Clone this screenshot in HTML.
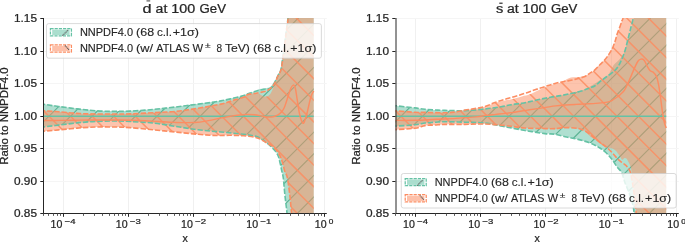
<!DOCTYPE html>
<html><head><meta charset="utf-8"><title>ratio plots</title>
<style>html,body{margin:0;padding:0;background:#fff;width:685px;height:242px;overflow:hidden}svg{display:block;will-change:transform}text{font-family:"Liberation Sans",sans-serif;stroke:#262626;stroke-width:0.24px}.lg text{stroke-width:0.12px}</style>
</head><body>
<svg width="685" height="242" viewBox="0 0 685 242" font-family="Liberation Sans, sans-serif" fill="#262626">
<rect width="685" height="242" fill="#ffffff"/>
<defs></defs>
<clipPath id="axL"><rect x="43.50" y="18.00" width="283.30" height="195.50"/></clipPath>
<clipPath id="tbL"><path d="M40.00,103.70C40.58,103.75 40.40,103.58 43.50,104.00C46.60,104.42 52.98,105.43 58.60,106.20C64.22,106.97 71.00,107.88 77.20,108.60C83.40,109.32 89.62,110.08 95.80,110.50C101.98,110.92 108.60,111.05 114.30,111.10C120.00,111.15 123.60,111.12 130.00,110.80C136.40,110.48 145.12,109.88 152.70,109.20C160.28,108.52 167.92,107.60 175.50,106.70C183.08,105.80 190.63,104.82 198.20,103.80C205.77,102.78 213.33,102.02 220.90,100.60C228.47,99.18 239.08,96.53 243.60,95.30C248.12,94.07 245.88,93.88 248.00,93.20C250.12,92.52 254.52,91.85 256.30,91.20C258.08,90.55 257.33,89.78 258.70,89.30C260.07,88.82 262.70,88.62 264.50,88.30C266.30,87.98 268.12,88.10 269.50,87.40C270.88,86.70 271.83,85.23 272.80,84.10C273.77,82.97 274.47,82.12 275.30,80.60C276.13,79.08 276.93,76.77 277.80,75.00C278.67,73.23 279.70,72.92 280.50,70.00C281.30,67.08 281.97,61.67 282.60,57.50C283.23,53.33 283.77,49.08 284.30,45.00C284.83,40.92 285.32,36.67 285.80,33.00C286.28,29.33 286.87,25.50 287.20,23.00C287.53,20.50 287.53,21.00 287.80,18.00C288.07,15.00 288.47,9.67 288.80,5.00C289.13,0.33 285.65,-7.50 289.80,-10.00C293.95,-12.50 309.72,-9.83 313.70,-10.00C317.68,-10.17 313.70,-10.83 313.70,-11.00L313.70,241.00C313.70,240.83 317.90,241.83 313.70,240.00C309.50,238.17 292.95,234.50 288.50,230.00C284.05,225.50 287.60,218.83 287.00,213.00C286.40,207.17 285.52,200.83 284.90,195.00C284.28,189.17 283.82,182.00 283.30,178.00C282.78,174.00 282.33,173.48 281.80,171.00C281.27,168.52 280.67,165.52 280.10,163.10C279.53,160.68 279.13,158.42 278.40,156.50C277.67,154.58 276.83,153.15 275.70,151.60C274.57,150.05 273.38,148.88 271.60,147.20C269.82,145.52 267.38,143.23 265.00,141.50C262.62,139.77 260.87,138.00 257.30,136.80C253.73,135.60 249.67,135.10 243.60,134.30C237.53,133.50 228.47,132.75 220.90,132.00C213.33,131.25 205.77,130.73 198.20,129.80C190.63,128.87 183.08,127.53 175.50,126.40C167.92,125.27 160.28,123.82 152.70,123.00C145.12,122.18 136.40,121.83 130.00,121.50C123.60,121.17 120.00,121.02 114.30,121.00C108.60,120.98 101.98,121.08 95.80,121.40C89.62,121.72 83.40,122.28 77.20,122.90C71.00,123.52 64.22,124.42 58.60,125.10C52.98,125.78 46.60,126.63 43.50,127.00C40.40,127.37 40.58,127.25 40.00,127.30Z"/></clipPath>
<clipPath id="obL"><path d="M40.00,110.60C40.58,110.63 40.40,110.62 43.50,110.80C46.60,110.98 52.98,111.27 58.60,111.70C64.22,112.13 71.00,113.02 77.20,113.40C83.40,113.78 89.62,113.90 95.80,114.00C101.98,114.10 108.60,114.02 114.30,114.00C120.00,113.98 123.60,114.12 130.00,113.90C136.40,113.68 145.12,113.12 152.70,112.70C160.28,112.28 167.92,112.15 175.50,111.40C183.08,110.65 190.63,109.42 198.20,108.20C205.77,106.98 215.22,105.37 220.90,104.10C226.58,102.83 228.52,101.75 232.30,100.60C236.08,99.45 240.98,98.20 243.60,97.20C246.22,96.20 245.88,95.25 248.00,94.60C250.12,93.95 254.52,93.47 256.30,93.30C258.08,93.13 257.60,93.13 258.70,93.60C259.80,94.07 261.52,95.62 262.90,96.10C264.28,96.58 265.77,96.85 267.00,96.50C268.23,96.15 269.33,95.23 270.30,94.00C271.27,92.77 272.12,90.60 272.80,89.10C273.48,87.60 273.78,86.52 274.40,85.00C275.02,83.48 275.80,81.83 276.50,80.00C277.20,78.17 277.82,75.67 278.60,74.00C279.38,72.33 280.43,72.75 281.20,70.00C281.97,67.25 282.58,61.67 283.20,57.50C283.82,53.33 284.37,49.08 284.90,45.00C285.43,40.92 285.92,36.67 286.40,33.00C286.88,29.33 287.47,25.50 287.80,23.00C288.13,20.50 288.13,21.00 288.40,18.00C288.67,15.00 289.07,9.67 289.40,5.00C289.73,0.33 286.35,-7.50 290.40,-10.00C294.45,-12.50 309.82,-9.83 313.70,-10.00C317.58,-10.17 313.70,-10.83 313.70,-11.00L313.70,241.00C313.70,240.83 317.15,241.83 313.70,240.00C310.25,238.17 296.70,234.50 293.00,230.00C289.30,225.50 292.03,218.83 291.50,213.00C290.97,207.17 290.52,201.00 289.80,195.00C289.08,189.00 288.00,180.83 287.20,177.00C286.40,173.17 285.77,174.32 285.00,172.00C284.23,169.68 283.45,165.82 282.60,163.10C281.75,160.38 281.33,158.28 279.90,155.70C278.47,153.12 276.32,149.80 274.00,147.60C271.68,145.40 268.78,144.12 266.00,142.50C263.22,140.88 261.03,139.02 257.30,137.90C253.57,136.78 248.15,136.23 243.60,135.80C239.05,135.37 234.53,135.35 230.00,135.30C225.47,135.25 221.70,135.67 216.40,135.50C211.10,135.33 205.02,134.88 198.20,134.30C191.38,133.72 183.08,132.75 175.50,132.00C167.92,131.25 160.28,130.53 152.70,129.80C145.12,129.07 136.40,128.07 130.00,127.60C123.60,127.13 120.00,127.10 114.30,127.00C108.60,126.90 101.98,126.82 95.80,127.00C89.62,127.18 83.40,127.62 77.20,128.10C71.00,128.58 64.22,129.38 58.60,129.90C52.98,130.42 46.60,130.93 43.50,131.20C40.40,131.47 40.58,131.45 40.00,131.50Z"/></clipPath>
<path d="M63.50,18.00V213.50M128.50,18.00V213.50M193.50,18.00V213.50M259.50,18.00V213.50M324.50,18.00V213.50" stroke="#f0f0f0" stroke-width="1" fill="none"/>
<path d="M43.50,18.50H326.80M43.50,51.50H326.80M43.50,83.50H326.80M43.50,116.50H326.80M43.50,148.50H326.80M43.50,181.50H326.80M43.50,213.50H326.80" stroke="#f5f5f5" stroke-width="1" fill="none"/>
<g clip-path="url(#axL)">
<path d="M40.00,103.70C40.58,103.75 40.40,103.58 43.50,104.00C46.60,104.42 52.98,105.43 58.60,106.20C64.22,106.97 71.00,107.88 77.20,108.60C83.40,109.32 89.62,110.08 95.80,110.50C101.98,110.92 108.60,111.05 114.30,111.10C120.00,111.15 123.60,111.12 130.00,110.80C136.40,110.48 145.12,109.88 152.70,109.20C160.28,108.52 167.92,107.60 175.50,106.70C183.08,105.80 190.63,104.82 198.20,103.80C205.77,102.78 213.33,102.02 220.90,100.60C228.47,99.18 239.08,96.53 243.60,95.30C248.12,94.07 245.88,93.88 248.00,93.20C250.12,92.52 254.52,91.85 256.30,91.20C258.08,90.55 257.33,89.78 258.70,89.30C260.07,88.82 262.70,88.62 264.50,88.30C266.30,87.98 268.12,88.10 269.50,87.40C270.88,86.70 271.83,85.23 272.80,84.10C273.77,82.97 274.47,82.12 275.30,80.60C276.13,79.08 276.93,76.77 277.80,75.00C278.67,73.23 279.70,72.92 280.50,70.00C281.30,67.08 281.97,61.67 282.60,57.50C283.23,53.33 283.77,49.08 284.30,45.00C284.83,40.92 285.32,36.67 285.80,33.00C286.28,29.33 286.87,25.50 287.20,23.00C287.53,20.50 287.53,21.00 287.80,18.00C288.07,15.00 288.47,9.67 288.80,5.00C289.13,0.33 285.65,-7.50 289.80,-10.00C293.95,-12.50 309.72,-9.83 313.70,-10.00C317.68,-10.17 313.70,-10.83 313.70,-11.00L313.70,241.00C313.70,240.83 317.90,241.83 313.70,240.00C309.50,238.17 292.95,234.50 288.50,230.00C284.05,225.50 287.60,218.83 287.00,213.00C286.40,207.17 285.52,200.83 284.90,195.00C284.28,189.17 283.82,182.00 283.30,178.00C282.78,174.00 282.33,173.48 281.80,171.00C281.27,168.52 280.67,165.52 280.10,163.10C279.53,160.68 279.13,158.42 278.40,156.50C277.67,154.58 276.83,153.15 275.70,151.60C274.57,150.05 273.38,148.88 271.60,147.20C269.82,145.52 267.38,143.23 265.00,141.50C262.62,139.77 260.87,138.00 257.30,136.80C253.73,135.60 249.67,135.10 243.60,134.30C237.53,133.50 228.47,132.75 220.90,132.00C213.33,131.25 205.77,130.73 198.20,129.80C190.63,128.87 183.08,127.53 175.50,126.40C167.92,125.27 160.28,123.82 152.70,123.00C145.12,122.18 136.40,121.83 130.00,121.50C123.60,121.17 120.00,121.02 114.30,121.00C108.60,120.98 101.98,121.08 95.80,121.40C89.62,121.72 83.40,122.28 77.20,122.90C71.00,123.52 64.22,124.42 58.60,125.10C52.98,125.78 46.60,126.63 43.50,127.00C40.40,127.37 40.58,127.25 40.00,127.30Z" fill="#66c2a5" fill-opacity="0.52"/>
<g clip-path="url(#tbL)"><path d="M38.50,-2.90L331.80,-296.20M38.50,18.70L331.80,-274.60M38.50,40.30L331.80,-253.00M38.50,61.90L331.80,-231.40M38.50,83.50L331.80,-209.80M38.50,105.10L331.80,-188.20M38.50,126.70L331.80,-166.60M38.50,148.30L331.80,-145.00M38.50,169.90L331.80,-123.40M38.50,191.50L331.80,-101.80M38.50,213.10L331.80,-80.20M38.50,234.70L331.80,-58.60M38.50,256.30L331.80,-37.00M38.50,277.90L331.80,-15.40M38.50,299.50L331.80,6.20M38.50,321.10L331.80,27.80M38.50,342.70L331.80,49.40M38.50,364.30L331.80,71.00M38.50,385.90L331.80,92.60M38.50,407.50L331.80,114.20M38.50,429.10L331.80,135.80M38.50,450.70L331.80,157.40M38.50,472.30L331.80,179.00M38.50,493.90L331.80,200.60" stroke="#52ad8c" stroke-opacity="0.90" stroke-width="1.15" fill="none"/></g>
<path d="M40.00,110.60C40.58,110.63 40.40,110.62 43.50,110.80C46.60,110.98 52.98,111.27 58.60,111.70C64.22,112.13 71.00,113.02 77.20,113.40C83.40,113.78 89.62,113.90 95.80,114.00C101.98,114.10 108.60,114.02 114.30,114.00C120.00,113.98 123.60,114.12 130.00,113.90C136.40,113.68 145.12,113.12 152.70,112.70C160.28,112.28 167.92,112.15 175.50,111.40C183.08,110.65 190.63,109.42 198.20,108.20C205.77,106.98 215.22,105.37 220.90,104.10C226.58,102.83 228.52,101.75 232.30,100.60C236.08,99.45 240.98,98.20 243.60,97.20C246.22,96.20 245.88,95.25 248.00,94.60C250.12,93.95 254.52,93.47 256.30,93.30C258.08,93.13 257.60,93.13 258.70,93.60C259.80,94.07 261.52,95.62 262.90,96.10C264.28,96.58 265.77,96.85 267.00,96.50C268.23,96.15 269.33,95.23 270.30,94.00C271.27,92.77 272.12,90.60 272.80,89.10C273.48,87.60 273.78,86.52 274.40,85.00C275.02,83.48 275.80,81.83 276.50,80.00C277.20,78.17 277.82,75.67 278.60,74.00C279.38,72.33 280.43,72.75 281.20,70.00C281.97,67.25 282.58,61.67 283.20,57.50C283.82,53.33 284.37,49.08 284.90,45.00C285.43,40.92 285.92,36.67 286.40,33.00C286.88,29.33 287.47,25.50 287.80,23.00C288.13,20.50 288.13,21.00 288.40,18.00C288.67,15.00 289.07,9.67 289.40,5.00C289.73,0.33 286.35,-7.50 290.40,-10.00C294.45,-12.50 309.82,-9.83 313.70,-10.00C317.58,-10.17 313.70,-10.83 313.70,-11.00L313.70,241.00C313.70,240.83 317.15,241.83 313.70,240.00C310.25,238.17 296.70,234.50 293.00,230.00C289.30,225.50 292.03,218.83 291.50,213.00C290.97,207.17 290.52,201.00 289.80,195.00C289.08,189.00 288.00,180.83 287.20,177.00C286.40,173.17 285.77,174.32 285.00,172.00C284.23,169.68 283.45,165.82 282.60,163.10C281.75,160.38 281.33,158.28 279.90,155.70C278.47,153.12 276.32,149.80 274.00,147.60C271.68,145.40 268.78,144.12 266.00,142.50C263.22,140.88 261.03,139.02 257.30,137.90C253.57,136.78 248.15,136.23 243.60,135.80C239.05,135.37 234.53,135.35 230.00,135.30C225.47,135.25 221.70,135.67 216.40,135.50C211.10,135.33 205.02,134.88 198.20,134.30C191.38,133.72 183.08,132.75 175.50,132.00C167.92,131.25 160.28,130.53 152.70,129.80C145.12,129.07 136.40,128.07 130.00,127.60C123.60,127.13 120.00,127.10 114.30,127.00C108.60,126.90 101.98,126.82 95.80,127.00C89.62,127.18 83.40,127.62 77.20,128.10C71.00,128.58 64.22,129.38 58.60,129.90C52.98,130.42 46.60,130.93 43.50,131.20C40.40,131.47 40.58,131.45 40.00,131.50Z" fill="#fc8d62" fill-opacity="0.52"/>
<g clip-path="url(#obL)"><path d="M38.50,-283.00L331.80,10.30M38.50,-261.40L331.80,31.90M38.50,-239.80L331.80,53.50M38.50,-218.20L331.80,75.10M38.50,-196.60L331.80,96.70M38.50,-175.00L331.80,118.30M38.50,-153.40L331.80,139.90M38.50,-131.80L331.80,161.50M38.50,-110.20L331.80,183.10M38.50,-88.60L331.80,204.70M38.50,-67.00L331.80,226.30M38.50,-45.40L331.80,247.90M38.50,-23.80L331.80,269.50M38.50,-2.20L331.80,291.10M38.50,19.40L331.80,312.70M38.50,41.00L331.80,334.30M38.50,62.60L331.80,355.90M38.50,84.20L331.80,377.50M38.50,105.80L331.80,399.10M38.50,127.40L331.80,420.70M38.50,149.00L331.80,442.30M38.50,170.60L331.80,463.90M38.50,192.20L331.80,485.50M38.50,213.80L331.80,507.10" stroke="#fc8d62" stroke-opacity="0.85" stroke-width="1.5" fill="none"/></g>
<path d="M40.00,104.00C40.58,104.05 40.40,103.88 43.50,104.30C46.60,104.72 52.98,105.73 58.60,106.50C64.22,107.27 71.00,108.18 77.20,108.90C83.40,109.62 89.62,110.38 95.80,110.80C101.98,111.22 108.60,111.35 114.30,111.40C120.00,111.45 123.60,111.42 130.00,111.10C136.40,110.78 145.12,110.18 152.70,109.50C160.28,108.82 167.92,107.90 175.50,107.00C183.08,106.10 190.63,105.12 198.20,104.10C205.77,103.08 213.33,102.32 220.90,100.90C228.47,99.48 239.08,96.78 243.60,95.60C248.12,94.42 246.43,94.37 248.00,93.80C249.57,93.23 251.35,92.73 253.00,92.20C254.65,91.67 256.07,91.08 257.90,90.60C259.73,90.12 261.93,89.70 264.00,89.30C266.07,88.90 268.80,88.92 270.30,88.20C271.80,87.48 272.13,86.23 273.00,85.00C273.87,83.77 274.67,82.38 275.50,80.80C276.33,79.22 277.12,77.30 278.00,75.50C278.88,73.70 280.00,73.00 280.80,70.00C281.60,67.00 282.18,61.67 282.80,57.50C283.42,53.33 283.97,49.08 284.50,45.00C285.03,40.92 285.52,36.67 286.00,33.00C286.48,29.33 287.07,25.50 287.40,23.00C287.73,20.50 287.73,21.00 288.00,18.00C288.27,15.00 288.83,7.17 289.00,5.00" stroke="#66c2a5" stroke-width="1.6" fill="none" stroke-dasharray="5.3,1.9"/>
<path d="M40.00,127.30C40.58,127.25 40.40,127.37 43.50,127.00C46.60,126.63 52.98,125.78 58.60,125.10C64.22,124.42 71.00,123.52 77.20,122.90C83.40,122.28 89.62,121.72 95.80,121.40C101.98,121.08 108.60,120.98 114.30,121.00C120.00,121.02 123.60,121.17 130.00,121.50C136.40,121.83 145.12,122.18 152.70,123.00C160.28,123.82 167.92,125.27 175.50,126.40C183.08,127.53 190.63,128.87 198.20,129.80C205.77,130.73 213.33,131.25 220.90,132.00C228.47,132.75 237.53,133.50 243.60,134.30C249.67,135.10 253.73,135.60 257.30,136.80C260.87,138.00 262.62,139.77 265.00,141.50C267.38,143.23 269.82,145.52 271.60,147.20C273.38,148.88 274.57,150.05 275.70,151.60C276.83,153.15 277.67,154.58 278.40,156.50C279.13,158.42 279.53,160.68 280.10,163.10C280.67,165.52 281.27,168.52 281.80,171.00C282.33,173.48 282.78,174.00 283.30,178.00C283.82,182.00 284.28,189.17 284.90,195.00C285.52,200.83 286.40,207.17 287.00,213.00C287.60,218.83 284.05,225.50 288.50,230.00C292.95,234.50 309.50,238.17 313.70,240.00C317.90,241.83 313.70,240.83 313.70,241.00" stroke="#66c2a5" stroke-width="1.6" fill="none" stroke-dasharray="5.3,1.9"/>
<path d="M40.00,110.60C40.58,110.63 40.40,110.62 43.50,110.80C46.60,110.98 52.98,111.27 58.60,111.70C64.22,112.13 71.00,113.02 77.20,113.40C83.40,113.78 89.62,113.90 95.80,114.00C101.98,114.10 108.60,114.02 114.30,114.00C120.00,113.98 123.60,114.12 130.00,113.90C136.40,113.68 145.12,113.12 152.70,112.70C160.28,112.28 167.92,112.15 175.50,111.40C183.08,110.65 190.63,109.42 198.20,108.20C205.77,106.98 215.22,105.37 220.90,104.10C226.58,102.83 228.52,101.75 232.30,100.60C236.08,99.45 240.98,98.22 243.60,97.20C246.22,96.18 245.88,95.17 248.00,94.50C250.12,93.83 254.23,93.55 256.30,93.20C258.37,92.85 259.03,92.67 260.40,92.40C261.77,92.13 263.27,91.95 264.50,91.60C265.73,91.25 266.70,90.92 267.80,90.30C268.90,89.68 270.13,88.78 271.10,87.90C272.07,87.02 272.78,86.23 273.60,85.00C274.42,83.77 275.22,82.17 276.00,80.50C276.78,78.83 277.47,76.75 278.30,75.00C279.13,73.25 280.22,72.92 281.00,70.00C281.78,67.08 282.38,61.67 283.00,57.50C283.62,53.33 284.17,49.08 284.70,45.00C285.23,40.92 285.72,36.67 286.20,33.00C286.68,29.33 287.27,25.50 287.60,23.00C287.93,20.50 287.93,21.00 288.20,18.00C288.47,15.00 289.03,7.17 289.20,5.00" stroke="#fc8d62" stroke-width="1.6" fill="none" stroke-dasharray="5.3,1.9"/>
<path d="M40.00,131.50C40.58,131.45 40.40,131.47 43.50,131.20C46.60,130.93 52.98,130.42 58.60,129.90C64.22,129.38 71.00,128.58 77.20,128.10C83.40,127.62 89.62,127.18 95.80,127.00C101.98,126.82 108.60,126.90 114.30,127.00C120.00,127.10 123.60,127.13 130.00,127.60C136.40,128.07 145.12,129.07 152.70,129.80C160.28,130.53 167.92,131.25 175.50,132.00C183.08,132.75 191.38,133.72 198.20,134.30C205.02,134.88 211.10,135.33 216.40,135.50C221.70,135.67 225.47,135.25 230.00,135.30C234.53,135.35 239.05,135.37 243.60,135.80C248.15,136.23 253.57,136.78 257.30,137.90C261.03,139.02 263.22,140.88 266.00,142.50C268.78,144.12 271.68,145.40 274.00,147.60C276.32,149.80 278.47,153.12 279.90,155.70C281.33,158.28 281.75,160.38 282.60,163.10C283.45,165.82 284.23,169.68 285.00,172.00C285.77,174.32 286.40,173.17 287.20,177.00C288.00,180.83 289.08,189.00 289.80,195.00C290.52,201.00 290.97,207.17 291.50,213.00C292.03,218.83 289.30,225.50 293.00,230.00C296.70,234.50 310.25,238.17 313.70,240.00C317.15,241.83 313.70,240.83 313.70,241.00" stroke="#fc8d62" stroke-width="1.6" fill="none" stroke-dasharray="5.3,1.9"/>
<path d="M43.50,116.30H313.70" stroke="#66c2a5" stroke-width="1.5" fill="none"/>
<path d="M40.00,120.50C40.58,120.50 40.17,120.52 43.50,120.50C46.83,120.48 53.92,120.47 60.00,120.40C66.08,120.33 73.33,120.17 80.00,120.10C86.67,120.03 93.33,120.02 100.00,120.00C106.67,119.98 113.33,119.92 120.00,120.00C126.67,120.08 133.67,120.25 140.00,120.50C146.33,120.75 152.17,121.18 158.00,121.50C163.83,121.82 168.83,122.23 175.00,122.40C181.17,122.57 189.43,122.80 195.00,122.50C200.57,122.20 203.73,121.42 208.40,120.60C213.07,119.78 218.13,118.48 223.00,117.60C227.87,116.72 233.60,115.83 237.60,115.30C241.60,114.77 244.18,114.48 247.00,114.40C249.82,114.32 252.05,114.53 254.50,114.80C256.95,115.07 259.53,115.63 261.70,116.00C263.87,116.37 265.58,116.88 267.50,117.00C269.42,117.12 271.52,117.00 273.20,116.70C274.88,116.40 276.27,115.93 277.60,115.20C278.93,114.47 280.12,113.50 281.20,112.30C282.28,111.10 283.27,109.68 284.10,108.00C284.93,106.32 285.45,104.40 286.20,102.20C286.95,100.00 287.80,97.17 288.60,94.80C289.40,92.43 290.18,89.65 291.00,88.00C291.82,86.35 292.75,84.73 293.50,84.90C294.25,85.07 294.88,86.53 295.50,89.00C296.12,91.47 296.50,95.43 297.20,99.70C297.90,103.97 298.75,110.68 299.70,114.60C300.65,118.52 302.02,122.30 302.90,123.20C303.78,124.10 304.32,121.65 305.00,120.00C305.68,118.35 306.03,117.10 307.00,113.30C307.97,109.50 309.68,100.92 310.80,97.20C311.92,93.48 313.22,92.03 313.70,91.00" stroke="#fc8d62" stroke-width="1.45" fill="none"/>
</g>
<path d="M43.50,18.00V213.50" stroke="#262626" stroke-width="1" fill="none"/>
<path d="M43.00,213.50H326.80" stroke="#262626" stroke-width="1" fill="none"/>
<path d="M40.30,18.50H43.50M40.30,51.50H43.50M40.30,83.50H43.50M40.30,116.50H43.50M40.30,148.50H43.50M40.30,181.50H43.50M40.30,213.50H43.50M63.50,213.50V216.80M128.50,213.50V216.80M193.50,213.50V216.80M259.50,213.50V216.80M324.50,213.50V216.80" stroke="#262626" stroke-width="1" fill="none"/>
<path d="M43.50,213.50V215.90M48.50,213.50V215.90M53.50,213.50V215.90M57.50,213.50V215.90M60.50,213.50V215.90M83.50,213.50V215.90M94.50,213.50V215.90M102.50,213.50V215.90M109.50,213.50V215.90M114.50,213.50V215.90M118.50,213.50V215.90M122.50,213.50V215.90M125.50,213.50V215.90M148.50,213.50V215.90M159.50,213.50V215.90M167.50,213.50V215.90M174.50,213.50V215.90M179.50,213.50V215.90M183.50,213.50V215.90M187.50,213.50V215.90M190.50,213.50V215.90M213.50,213.50V215.90M225.50,213.50V215.90M233.50,213.50V215.90M239.50,213.50V215.90M244.50,213.50V215.90M249.50,213.50V215.90M252.50,213.50V215.90M256.50,213.50V215.90M278.50,213.50V215.90M290.50,213.50V215.90M298.50,213.50V215.90M304.50,213.50V215.90M309.50,213.50V215.90M314.50,213.50V215.90M318.50,213.50V215.90M321.50,213.50V215.90" stroke="#4a4a4a" stroke-width="0.9" fill="none"/>
<clipPath id="axR"><rect x="395.50" y="18.00" width="283.30" height="195.50"/></clipPath>
<clipPath id="tbR"><path d="M392.00,105.40C392.67,105.47 392.17,105.38 396.00,105.80C399.83,106.22 410.17,107.32 415.00,107.90C419.83,108.48 420.00,108.88 425.00,109.30C430.00,109.72 438.33,110.18 445.00,110.40C451.67,110.62 458.33,110.83 465.00,110.60C471.67,110.37 478.98,109.65 485.00,109.00C491.02,108.35 496.70,107.42 501.10,106.70C505.50,105.98 507.95,105.28 511.40,104.70C514.85,104.12 518.70,103.72 521.80,103.20C524.90,102.68 526.97,102.25 530.00,101.60C533.03,100.95 536.60,100.02 540.00,99.30C543.40,98.58 546.95,97.92 550.40,97.30C553.85,96.68 557.27,96.23 560.70,95.60C564.13,94.97 567.55,94.33 571.00,93.50C574.45,92.67 578.28,91.72 581.40,90.60C584.52,89.48 587.45,87.97 589.70,86.80C591.95,85.63 593.20,84.68 594.90,83.60C596.60,82.52 598.52,81.13 599.90,80.30C601.28,79.47 601.83,79.48 603.20,78.60C604.57,77.72 606.73,76.52 608.10,75.00C609.47,73.48 610.43,71.20 611.40,69.50C612.37,67.80 612.78,66.27 613.90,64.80C615.02,63.33 616.72,62.17 618.10,60.70C619.48,59.23 621.10,57.62 622.20,56.00C623.30,54.38 624.03,52.67 624.70,51.00C625.37,49.33 625.57,48.17 626.20,46.00C626.83,43.83 627.67,40.92 628.50,38.00C629.33,35.08 630.33,31.72 631.20,28.50C632.07,25.28 632.98,22.62 633.70,18.70C634.42,14.78 635.03,9.78 635.50,5.00C635.97,0.22 631.38,-7.50 636.50,-10.00C641.62,-12.50 661.25,-9.83 666.20,-10.00C671.15,-10.17 666.20,-10.83 666.20,-11.00L666.20,241.00C666.20,240.83 671.32,241.83 666.20,240.00C661.08,238.17 640.85,234.43 635.50,230.00C630.15,225.57 634.52,217.48 634.10,213.40C633.68,209.32 633.77,208.73 633.00,205.50C632.23,202.27 630.83,197.80 629.50,194.00C628.17,190.20 626.32,186.28 625.00,182.70C623.68,179.12 622.93,175.15 621.60,172.50C620.27,169.85 618.47,168.80 617.00,166.80C615.53,164.80 614.00,162.18 612.80,160.50C611.60,158.82 611.12,158.17 609.80,156.70C608.48,155.23 606.55,153.15 604.90,151.70C603.25,150.25 601.55,149.07 599.90,148.00C598.25,146.93 596.70,146.17 595.00,145.30C593.30,144.43 592.52,143.78 589.70,142.80C586.88,141.82 581.95,140.37 578.10,139.40C574.25,138.43 570.45,137.87 566.60,137.00C562.75,136.13 558.60,134.77 555.00,134.20C551.40,133.63 550.00,134.22 545.00,133.60C540.00,132.98 531.67,131.63 525.00,130.50C518.33,129.37 511.67,128.05 505.00,126.80C498.33,125.55 491.67,123.77 485.00,123.00C478.33,122.23 471.67,122.42 465.00,122.20C458.33,121.98 450.00,121.68 445.00,121.70C440.00,121.72 438.33,122.08 435.00,122.30C431.67,122.52 428.33,122.58 425.00,123.00C421.67,123.42 419.83,124.28 415.00,124.80C410.17,125.32 399.83,125.83 396.00,126.10C392.17,126.37 392.67,126.35 392.00,126.40Z"/></clipPath>
<clipPath id="obR"><path d="M392.00,110.80C392.67,110.80 392.17,110.55 396.00,110.80C399.83,111.05 410.17,112.03 415.00,112.30C419.83,112.57 420.00,112.32 425.00,112.40C430.00,112.48 440.00,112.87 445.00,112.80C450.00,112.73 451.67,112.45 455.00,112.00C458.33,111.55 461.67,110.67 465.00,110.10C468.33,109.53 471.67,109.20 475.00,108.60C478.33,108.00 481.67,107.43 485.00,106.50C488.33,105.57 491.67,104.00 495.00,103.00C498.33,102.00 502.27,101.12 505.00,100.50C507.73,99.88 508.60,99.98 511.40,99.30C514.20,98.62 518.70,97.23 521.80,96.40C524.90,95.57 526.97,95.45 530.00,94.30C533.03,93.15 536.60,91.00 540.00,89.50C543.40,88.00 547.90,86.22 550.40,85.30C552.90,84.38 553.28,84.45 555.00,84.00C556.72,83.55 558.88,83.32 560.70,82.60C562.52,81.88 564.18,80.53 565.90,79.70C567.62,78.87 568.77,78.05 571.00,77.60C573.23,77.15 576.88,77.35 579.30,77.00C581.72,76.65 583.42,76.27 585.50,75.50C587.58,74.73 589.90,73.78 591.80,72.40C593.70,71.02 595.55,68.52 596.90,67.20C598.25,65.88 598.72,65.63 599.90,64.50C601.08,63.37 602.77,61.77 604.00,60.40C605.23,59.03 606.20,57.82 607.30,56.30C608.40,54.78 609.63,52.93 610.60,51.30C611.57,49.67 612.28,48.38 613.10,46.50C613.92,44.62 614.80,42.15 615.50,40.00C616.20,37.85 616.53,35.90 617.30,33.60C618.07,31.30 619.32,28.37 620.10,26.20C620.88,24.03 621.52,21.97 622.00,20.60C622.48,19.23 622.67,20.60 623.00,18.00C623.33,15.40 623.67,9.67 624.00,5.00C624.33,0.33 617.97,-7.50 625.00,-10.00C632.03,-12.50 659.33,-9.83 666.20,-10.00C673.07,-10.17 666.20,-10.83 666.20,-11.00L666.20,241.00C666.20,240.83 671.07,241.83 666.20,240.00C661.33,238.17 641.97,234.43 637.00,230.00C632.03,225.57 636.70,218.25 636.40,213.40C636.10,208.55 635.67,205.25 635.20,200.90C634.73,196.55 634.17,191.85 633.60,187.30C633.03,182.75 632.28,177.02 631.80,173.60C631.32,170.18 631.25,168.73 630.70,166.80C630.15,164.87 629.20,163.38 628.50,162.00C627.80,160.62 627.17,159.17 626.50,158.50C625.83,157.83 625.22,157.78 624.50,158.00C623.78,158.22 623.00,160.12 622.20,159.80C621.40,159.48 620.73,157.55 619.70,156.10C618.67,154.65 617.23,152.35 616.00,151.10C614.77,149.85 613.75,149.22 612.30,148.60C610.85,147.98 608.95,148.02 607.30,147.40C605.65,146.78 604.05,145.93 602.40,144.90C600.75,143.87 599.47,142.65 597.40,141.20C595.33,139.75 591.85,137.77 590.00,136.20C588.15,134.63 587.50,132.82 586.30,131.80C585.10,130.78 584.17,130.62 582.80,130.10C581.43,129.58 579.83,129.08 578.10,128.70C576.37,128.32 574.32,127.98 572.40,127.80C570.48,127.62 568.53,127.50 566.60,127.60C564.67,127.70 562.73,128.13 560.80,128.40C558.87,128.67 557.63,129.13 555.00,129.20C552.37,129.27 550.00,129.00 545.00,128.80C540.00,128.60 531.67,128.55 525.00,128.00C518.33,127.45 511.67,126.17 505.00,125.50C498.33,124.83 491.67,124.18 485.00,124.00C478.33,123.82 471.67,124.33 465.00,124.40C458.33,124.47 450.00,124.30 445.00,124.40C440.00,124.50 438.33,124.80 435.00,125.00C431.67,125.20 428.33,125.07 425.00,125.60C421.67,126.13 419.83,127.53 415.00,128.20C410.17,128.87 399.83,129.33 396.00,129.60C392.17,129.87 392.67,129.77 392.00,129.80Z"/></clipPath>
<path d="M415.50,18.00V213.50M480.50,18.00V213.50M545.50,18.00V213.50M611.50,18.00V213.50M676.50,18.00V213.50" stroke="#f0f0f0" stroke-width="1" fill="none"/>
<path d="M395.50,18.50H678.80M395.50,51.50H678.80M395.50,83.50H678.80M395.50,116.50H678.80M395.50,148.50H678.80M395.50,181.50H678.80M395.50,213.50H678.80" stroke="#f5f5f5" stroke-width="1" fill="none"/>
<g clip-path="url(#axR)">
<path d="M392.00,105.40C392.67,105.47 392.17,105.38 396.00,105.80C399.83,106.22 410.17,107.32 415.00,107.90C419.83,108.48 420.00,108.88 425.00,109.30C430.00,109.72 438.33,110.18 445.00,110.40C451.67,110.62 458.33,110.83 465.00,110.60C471.67,110.37 478.98,109.65 485.00,109.00C491.02,108.35 496.70,107.42 501.10,106.70C505.50,105.98 507.95,105.28 511.40,104.70C514.85,104.12 518.70,103.72 521.80,103.20C524.90,102.68 526.97,102.25 530.00,101.60C533.03,100.95 536.60,100.02 540.00,99.30C543.40,98.58 546.95,97.92 550.40,97.30C553.85,96.68 557.27,96.23 560.70,95.60C564.13,94.97 567.55,94.33 571.00,93.50C574.45,92.67 578.28,91.72 581.40,90.60C584.52,89.48 587.45,87.97 589.70,86.80C591.95,85.63 593.20,84.68 594.90,83.60C596.60,82.52 598.52,81.13 599.90,80.30C601.28,79.47 601.83,79.48 603.20,78.60C604.57,77.72 606.73,76.52 608.10,75.00C609.47,73.48 610.43,71.20 611.40,69.50C612.37,67.80 612.78,66.27 613.90,64.80C615.02,63.33 616.72,62.17 618.10,60.70C619.48,59.23 621.10,57.62 622.20,56.00C623.30,54.38 624.03,52.67 624.70,51.00C625.37,49.33 625.57,48.17 626.20,46.00C626.83,43.83 627.67,40.92 628.50,38.00C629.33,35.08 630.33,31.72 631.20,28.50C632.07,25.28 632.98,22.62 633.70,18.70C634.42,14.78 635.03,9.78 635.50,5.00C635.97,0.22 631.38,-7.50 636.50,-10.00C641.62,-12.50 661.25,-9.83 666.20,-10.00C671.15,-10.17 666.20,-10.83 666.20,-11.00L666.20,241.00C666.20,240.83 671.32,241.83 666.20,240.00C661.08,238.17 640.85,234.43 635.50,230.00C630.15,225.57 634.52,217.48 634.10,213.40C633.68,209.32 633.77,208.73 633.00,205.50C632.23,202.27 630.83,197.80 629.50,194.00C628.17,190.20 626.32,186.28 625.00,182.70C623.68,179.12 622.93,175.15 621.60,172.50C620.27,169.85 618.47,168.80 617.00,166.80C615.53,164.80 614.00,162.18 612.80,160.50C611.60,158.82 611.12,158.17 609.80,156.70C608.48,155.23 606.55,153.15 604.90,151.70C603.25,150.25 601.55,149.07 599.90,148.00C598.25,146.93 596.70,146.17 595.00,145.30C593.30,144.43 592.52,143.78 589.70,142.80C586.88,141.82 581.95,140.37 578.10,139.40C574.25,138.43 570.45,137.87 566.60,137.00C562.75,136.13 558.60,134.77 555.00,134.20C551.40,133.63 550.00,134.22 545.00,133.60C540.00,132.98 531.67,131.63 525.00,130.50C518.33,129.37 511.67,128.05 505.00,126.80C498.33,125.55 491.67,123.77 485.00,123.00C478.33,122.23 471.67,122.42 465.00,122.20C458.33,121.98 450.00,121.68 445.00,121.70C440.00,121.72 438.33,122.08 435.00,122.30C431.67,122.52 428.33,122.58 425.00,123.00C421.67,123.42 419.83,124.28 415.00,124.80C410.17,125.32 399.83,125.83 396.00,126.10C392.17,126.37 392.67,126.35 392.00,126.40Z" fill="#66c2a5" fill-opacity="0.52"/>
<g clip-path="url(#tbR)"><path d="M390.50,-2.90L683.80,-296.20M390.50,18.70L683.80,-274.60M390.50,40.30L683.80,-253.00M390.50,61.90L683.80,-231.40M390.50,83.50L683.80,-209.80M390.50,105.10L683.80,-188.20M390.50,126.70L683.80,-166.60M390.50,148.30L683.80,-145.00M390.50,169.90L683.80,-123.40M390.50,191.50L683.80,-101.80M390.50,213.10L683.80,-80.20M390.50,234.70L683.80,-58.60M390.50,256.30L683.80,-37.00M390.50,277.90L683.80,-15.40M390.50,299.50L683.80,6.20M390.50,321.10L683.80,27.80M390.50,342.70L683.80,49.40M390.50,364.30L683.80,71.00M390.50,385.90L683.80,92.60M390.50,407.50L683.80,114.20M390.50,429.10L683.80,135.80M390.50,450.70L683.80,157.40M390.50,472.30L683.80,179.00M390.50,493.90L683.80,200.60" stroke="#52ad8c" stroke-opacity="0.90" stroke-width="1.15" fill="none"/></g>
<path d="M392.00,110.80C392.67,110.80 392.17,110.55 396.00,110.80C399.83,111.05 410.17,112.03 415.00,112.30C419.83,112.57 420.00,112.32 425.00,112.40C430.00,112.48 440.00,112.87 445.00,112.80C450.00,112.73 451.67,112.45 455.00,112.00C458.33,111.55 461.67,110.67 465.00,110.10C468.33,109.53 471.67,109.20 475.00,108.60C478.33,108.00 481.67,107.43 485.00,106.50C488.33,105.57 491.67,104.00 495.00,103.00C498.33,102.00 502.27,101.12 505.00,100.50C507.73,99.88 508.60,99.98 511.40,99.30C514.20,98.62 518.70,97.23 521.80,96.40C524.90,95.57 526.97,95.45 530.00,94.30C533.03,93.15 536.60,91.00 540.00,89.50C543.40,88.00 547.90,86.22 550.40,85.30C552.90,84.38 553.28,84.45 555.00,84.00C556.72,83.55 558.88,83.32 560.70,82.60C562.52,81.88 564.18,80.53 565.90,79.70C567.62,78.87 568.77,78.05 571.00,77.60C573.23,77.15 576.88,77.35 579.30,77.00C581.72,76.65 583.42,76.27 585.50,75.50C587.58,74.73 589.90,73.78 591.80,72.40C593.70,71.02 595.55,68.52 596.90,67.20C598.25,65.88 598.72,65.63 599.90,64.50C601.08,63.37 602.77,61.77 604.00,60.40C605.23,59.03 606.20,57.82 607.30,56.30C608.40,54.78 609.63,52.93 610.60,51.30C611.57,49.67 612.28,48.38 613.10,46.50C613.92,44.62 614.80,42.15 615.50,40.00C616.20,37.85 616.53,35.90 617.30,33.60C618.07,31.30 619.32,28.37 620.10,26.20C620.88,24.03 621.52,21.97 622.00,20.60C622.48,19.23 622.67,20.60 623.00,18.00C623.33,15.40 623.67,9.67 624.00,5.00C624.33,0.33 617.97,-7.50 625.00,-10.00C632.03,-12.50 659.33,-9.83 666.20,-10.00C673.07,-10.17 666.20,-10.83 666.20,-11.00L666.20,241.00C666.20,240.83 671.07,241.83 666.20,240.00C661.33,238.17 641.97,234.43 637.00,230.00C632.03,225.57 636.70,218.25 636.40,213.40C636.10,208.55 635.67,205.25 635.20,200.90C634.73,196.55 634.17,191.85 633.60,187.30C633.03,182.75 632.28,177.02 631.80,173.60C631.32,170.18 631.25,168.73 630.70,166.80C630.15,164.87 629.20,163.38 628.50,162.00C627.80,160.62 627.17,159.17 626.50,158.50C625.83,157.83 625.22,157.78 624.50,158.00C623.78,158.22 623.00,160.12 622.20,159.80C621.40,159.48 620.73,157.55 619.70,156.10C618.67,154.65 617.23,152.35 616.00,151.10C614.77,149.85 613.75,149.22 612.30,148.60C610.85,147.98 608.95,148.02 607.30,147.40C605.65,146.78 604.05,145.93 602.40,144.90C600.75,143.87 599.47,142.65 597.40,141.20C595.33,139.75 591.85,137.77 590.00,136.20C588.15,134.63 587.50,132.82 586.30,131.80C585.10,130.78 584.17,130.62 582.80,130.10C581.43,129.58 579.83,129.08 578.10,128.70C576.37,128.32 574.32,127.98 572.40,127.80C570.48,127.62 568.53,127.50 566.60,127.60C564.67,127.70 562.73,128.13 560.80,128.40C558.87,128.67 557.63,129.13 555.00,129.20C552.37,129.27 550.00,129.00 545.00,128.80C540.00,128.60 531.67,128.55 525.00,128.00C518.33,127.45 511.67,126.17 505.00,125.50C498.33,124.83 491.67,124.18 485.00,124.00C478.33,123.82 471.67,124.33 465.00,124.40C458.33,124.47 450.00,124.30 445.00,124.40C440.00,124.50 438.33,124.80 435.00,125.00C431.67,125.20 428.33,125.07 425.00,125.60C421.67,126.13 419.83,127.53 415.00,128.20C410.17,128.87 399.83,129.33 396.00,129.60C392.17,129.87 392.67,129.77 392.00,129.80Z" fill="#fc8d62" fill-opacity="0.52"/>
<g clip-path="url(#obR)"><path d="M390.50,-283.00L683.80,10.30M390.50,-261.40L683.80,31.90M390.50,-239.80L683.80,53.50M390.50,-218.20L683.80,75.10M390.50,-196.60L683.80,96.70M390.50,-175.00L683.80,118.30M390.50,-153.40L683.80,139.90M390.50,-131.80L683.80,161.50M390.50,-110.20L683.80,183.10M390.50,-88.60L683.80,204.70M390.50,-67.00L683.80,226.30M390.50,-45.40L683.80,247.90M390.50,-23.80L683.80,269.50M390.50,-2.20L683.80,291.10M390.50,19.40L683.80,312.70M390.50,41.00L683.80,334.30M390.50,62.60L683.80,355.90M390.50,84.20L683.80,377.50M390.50,105.80L683.80,399.10M390.50,127.40L683.80,420.70M390.50,149.00L683.80,442.30M390.50,170.60L683.80,463.90M390.50,192.20L683.80,485.50M390.50,213.80L683.80,507.10" stroke="#fc8d62" stroke-opacity="0.85" stroke-width="1.5" fill="none"/></g>
<path d="M392.00,105.40C392.67,105.47 392.17,105.38 396.00,105.80C399.83,106.22 410.17,107.32 415.00,107.90C419.83,108.48 420.00,108.88 425.00,109.30C430.00,109.72 438.33,110.18 445.00,110.40C451.67,110.62 458.33,110.83 465.00,110.60C471.67,110.37 478.98,109.65 485.00,109.00C491.02,108.35 496.70,107.42 501.10,106.70C505.50,105.98 507.95,105.28 511.40,104.70C514.85,104.12 518.70,103.72 521.80,103.20C524.90,102.68 526.97,102.25 530.00,101.60C533.03,100.95 536.60,100.02 540.00,99.30C543.40,98.58 546.95,97.92 550.40,97.30C553.85,96.68 557.27,96.23 560.70,95.60C564.13,94.97 567.55,94.25 571.00,93.50C574.45,92.75 578.28,92.02 581.40,91.10C584.52,90.18 587.43,88.90 589.70,88.00C591.97,87.10 593.03,86.95 595.00,85.70C596.97,84.45 599.32,82.18 601.50,80.50C603.68,78.82 606.03,77.12 608.10,75.60C610.17,74.08 612.23,72.92 613.90,71.40C615.57,69.88 616.92,68.23 618.10,66.50C619.28,64.77 620.10,62.92 621.00,61.00C621.90,59.08 622.75,57.00 623.50,55.00C624.25,53.00 624.83,51.33 625.50,49.00C626.17,46.67 626.70,44.18 627.50,41.00C628.30,37.82 629.37,33.62 630.30,29.90C631.23,26.18 632.32,22.85 633.10,18.70C633.88,14.55 634.68,7.28 635.00,5.00" stroke="#66c2a5" stroke-width="1.6" fill="none" stroke-dasharray="5.3,1.9"/>
<path d="M392.00,126.40C392.67,126.35 392.17,126.37 396.00,126.10C399.83,125.83 410.17,125.32 415.00,124.80C419.83,124.28 421.67,123.42 425.00,123.00C428.33,122.58 431.67,122.52 435.00,122.30C438.33,122.08 440.00,121.72 445.00,121.70C450.00,121.68 458.33,121.98 465.00,122.20C471.67,122.42 478.33,122.23 485.00,123.00C491.67,123.77 498.33,125.55 505.00,126.80C511.67,128.05 518.33,129.37 525.00,130.50C531.67,131.63 540.00,132.98 545.00,133.60C550.00,134.22 551.40,133.63 555.00,134.20C558.60,134.77 562.75,136.13 566.60,137.00C570.45,137.87 574.25,138.43 578.10,139.40C581.95,140.37 586.88,141.82 589.70,142.80C592.52,143.78 593.30,144.43 595.00,145.30C596.70,146.17 598.25,146.93 599.90,148.00C601.55,149.07 603.25,150.25 604.90,151.70C606.55,153.15 608.48,155.23 609.80,156.70C611.12,158.17 611.60,158.82 612.80,160.50C614.00,162.18 615.53,164.80 617.00,166.80C618.47,168.80 620.27,169.85 621.60,172.50C622.93,175.15 623.68,179.12 625.00,182.70C626.32,186.28 628.17,190.20 629.50,194.00C630.83,197.80 632.23,202.27 633.00,205.50C633.77,208.73 633.68,209.32 634.10,213.40C634.52,217.48 630.15,225.57 635.50,230.00C640.85,234.43 661.08,238.17 666.20,240.00C671.32,241.83 666.20,240.83 666.20,241.00" stroke="#66c2a5" stroke-width="1.6" fill="none" stroke-dasharray="5.3,1.9"/>
<path d="M392.00,110.80C392.67,110.80 392.17,110.55 396.00,110.80C399.83,111.05 410.17,112.03 415.00,112.30C419.83,112.57 420.00,112.32 425.00,112.40C430.00,112.48 440.00,112.87 445.00,112.80C450.00,112.73 451.67,112.45 455.00,112.00C458.33,111.55 461.67,110.67 465.00,110.10C468.33,109.53 471.67,109.20 475.00,108.60C478.33,108.00 481.67,107.52 485.00,106.50C488.33,105.48 491.67,103.70 495.00,102.50C498.33,101.30 501.67,100.32 505.00,99.30C508.33,98.28 511.67,97.40 515.00,96.40C518.33,95.40 521.67,94.40 525.00,93.30C528.33,92.20 531.67,90.92 535.00,89.80C538.33,88.68 541.67,87.67 545.00,86.60C548.33,85.53 551.67,84.28 555.00,83.40C558.33,82.52 561.67,81.97 565.00,81.30C568.33,80.63 571.67,80.22 575.00,79.40C578.33,78.58 582.50,77.45 585.00,76.40C587.50,75.35 588.35,74.20 590.00,73.10C591.65,72.00 593.25,71.18 594.90,69.80C596.55,68.42 598.38,66.32 599.90,64.80C601.42,63.28 602.77,62.07 604.00,60.70C605.23,59.33 606.20,58.12 607.30,56.60C608.40,55.08 609.63,53.25 610.60,51.60C611.57,49.95 612.28,48.63 613.10,46.70C613.92,44.77 614.80,42.18 615.50,40.00C616.20,37.82 616.53,35.90 617.30,33.60C618.07,31.30 619.32,28.37 620.10,26.20C620.88,24.03 621.52,21.97 622.00,20.60C622.48,19.23 622.67,20.60 623.00,18.00C623.33,15.40 623.83,7.17 624.00,5.00" stroke="#fc8d62" stroke-width="1.6" fill="none" stroke-dasharray="5.3,1.9"/>
<path d="M392.00,129.80C392.67,129.77 392.17,129.87 396.00,129.60C399.83,129.33 410.17,128.87 415.00,128.20C419.83,127.53 421.67,126.13 425.00,125.60C428.33,125.07 431.67,125.20 435.00,125.00C438.33,124.80 440.00,124.50 445.00,124.40C450.00,124.30 458.33,124.47 465.00,124.40C471.67,124.33 478.33,123.82 485.00,124.00C491.67,124.18 498.33,124.83 505.00,125.50C511.67,126.17 518.33,127.48 525.00,128.00C531.67,128.52 540.00,128.50 545.00,128.60C550.00,128.70 551.40,128.77 555.00,128.60C558.60,128.43 562.75,127.62 566.60,127.60C570.45,127.58 574.82,127.80 578.10,128.50C581.38,129.20 583.70,130.30 586.30,131.80C588.90,133.30 591.42,135.72 593.70,137.50C595.98,139.28 597.93,140.95 600.00,142.50C602.07,144.05 604.10,145.13 606.10,146.80C608.10,148.47 610.13,150.55 612.00,152.50C613.87,154.45 615.63,156.83 617.30,158.50C618.97,160.17 620.55,161.33 622.00,162.50C623.45,163.67 624.62,163.92 626.00,165.50C627.38,167.08 629.10,168.37 630.30,172.00C631.50,175.63 632.42,182.48 633.20,187.30C633.98,192.12 634.50,196.55 635.00,200.90C635.50,205.25 635.87,208.55 636.20,213.40C636.53,218.25 632.00,225.57 637.00,230.00C642.00,234.43 661.33,238.17 666.20,240.00C671.07,241.83 666.20,240.83 666.20,241.00" stroke="#fc8d62" stroke-width="1.6" fill="none" stroke-dasharray="5.3,1.9"/>
<path d="M395.50,116.30H666.20" stroke="#66c2a5" stroke-width="1.5" fill="none"/>
<path d="M392.00,120.50C392.67,120.48 392.17,120.43 396.00,120.40C399.83,120.37 408.33,120.48 415.00,120.30C421.67,120.12 429.17,119.62 436.00,119.30C442.83,118.98 449.33,118.80 456.00,118.40C462.67,118.00 471.02,117.40 476.00,116.90C480.98,116.40 482.60,115.82 485.90,115.40C489.20,114.98 492.48,114.73 495.80,114.40C499.12,114.07 502.43,113.80 505.80,113.40C509.17,113.00 512.65,112.50 516.00,112.00C519.35,111.50 522.60,110.92 525.90,110.40C529.20,109.88 532.48,109.40 535.80,108.90C539.12,108.40 542.48,107.90 545.80,107.40C549.12,106.90 552.33,106.30 555.70,105.90C559.07,105.50 562.63,105.25 566.00,105.00C569.37,104.75 572.60,104.58 575.90,104.40C579.20,104.22 582.48,104.07 585.80,103.90C589.12,103.73 592.48,103.65 595.80,103.40C599.12,103.15 603.22,102.77 605.70,102.40C608.18,102.03 609.28,101.77 610.70,101.20C612.12,100.63 612.98,99.78 614.20,99.00C615.42,98.22 616.97,97.27 618.00,96.50C619.03,95.73 619.32,95.47 620.40,94.40C621.48,93.33 623.13,92.20 624.50,90.10C625.87,88.00 627.40,84.38 628.60,81.80C629.80,79.22 630.67,77.00 631.70,74.60C632.73,72.20 633.77,69.63 634.80,67.40C635.83,65.17 636.87,62.58 637.90,61.20C638.93,59.82 639.97,59.27 641.00,59.10C642.03,58.93 643.08,59.05 644.10,60.20C645.12,61.35 646.08,64.23 647.10,66.00C648.12,67.77 649.17,69.75 650.20,70.80C651.23,71.85 652.27,71.37 653.30,72.30C654.33,73.23 655.53,74.43 656.40,76.40C657.27,78.37 657.83,80.75 658.50,84.10C659.17,87.45 659.82,92.37 660.40,96.50C660.98,100.63 661.53,105.53 662.00,108.90C662.47,112.27 662.78,114.35 663.20,116.70C663.62,119.05 664.00,121.12 664.50,123.00C665.00,124.88 665.92,127.17 666.20,128.00" stroke="#fc8d62" stroke-width="1.45" fill="none"/>
</g>
<path d="M396.00,18.00V213.50" stroke="#262626" stroke-width="1" fill="none"/>
<path d="M395.50,213.50H678.80" stroke="#262626" stroke-width="1" fill="none"/>
<path d="M392.30,18.50H395.50M392.30,51.50H395.50M392.30,83.50H395.50M392.30,116.50H395.50M392.30,148.50H395.50M392.30,181.50H395.50M392.30,213.50H395.50M415.50,213.50V216.80M480.50,213.50V216.80M545.50,213.50V216.80M611.50,213.50V216.80M676.50,213.50V216.80" stroke="#262626" stroke-width="1" fill="none"/>
<path d="M395.50,213.50V215.90M400.50,213.50V215.90M405.50,213.50V215.90M409.50,213.50V215.90M412.50,213.50V215.90M435.50,213.50V215.90M446.50,213.50V215.90M454.50,213.50V215.90M461.50,213.50V215.90M466.50,213.50V215.90M470.50,213.50V215.90M474.50,213.50V215.90M477.50,213.50V215.90M500.50,213.50V215.90M511.50,213.50V215.90M519.50,213.50V215.90M526.50,213.50V215.90M531.50,213.50V215.90M535.50,213.50V215.90M539.50,213.50V215.90M542.50,213.50V215.90M565.50,213.50V215.90M577.50,213.50V215.90M585.50,213.50V215.90M591.50,213.50V215.90M596.50,213.50V215.90M601.50,213.50V215.90M604.50,213.50V215.90M608.50,213.50V215.90M630.50,213.50V215.90M642.50,213.50V215.90M650.50,213.50V215.90M656.50,213.50V215.90M661.50,213.50V215.90M666.50,213.50V215.90M670.50,213.50V215.90M673.50,213.50V215.90" stroke="#4a4a4a" stroke-width="0.9" fill="none"/>
<text x="37.00" y="22.15" font-size="10.60" text-anchor="end" textLength="23.00" lengthAdjust="spacingAndGlyphs">1.15</text>
<text x="37.00" y="55.15" font-size="10.60" text-anchor="end" textLength="23.00" lengthAdjust="spacingAndGlyphs">1.10</text>
<text x="37.00" y="87.25" font-size="10.60" text-anchor="end" textLength="23.00" lengthAdjust="spacingAndGlyphs">1.05</text>
<text x="37.00" y="120.05" font-size="10.60" text-anchor="end" textLength="23.00" lengthAdjust="spacingAndGlyphs">1.00</text>
<text x="37.00" y="152.25" font-size="10.60" text-anchor="end" textLength="23.00" lengthAdjust="spacingAndGlyphs">0.95</text>
<text x="37.00" y="185.15" font-size="10.60" text-anchor="end" textLength="23.00" lengthAdjust="spacingAndGlyphs">0.90</text>
<text x="37.00" y="217.15" font-size="10.60" text-anchor="end" textLength="23.00" lengthAdjust="spacingAndGlyphs">0.85</text>
<text x="50.50" y="227.90" font-size="10.60" text-anchor="start" textLength="11.80" lengthAdjust="spacingAndGlyphs">10</text>
<text x="64.60" y="224.30" font-size="7.40" text-anchor="start" textLength="10.90" lengthAdjust="spacingAndGlyphs">&#8722;4</text>
<text x="115.75" y="227.90" font-size="10.60" text-anchor="start" textLength="11.80" lengthAdjust="spacingAndGlyphs">10</text>
<text x="129.85" y="224.30" font-size="7.40" text-anchor="start" textLength="10.90" lengthAdjust="spacingAndGlyphs">&#8722;3</text>
<text x="181.00" y="227.90" font-size="10.60" text-anchor="start" textLength="11.80" lengthAdjust="spacingAndGlyphs">10</text>
<text x="195.10" y="224.30" font-size="7.40" text-anchor="start" textLength="10.90" lengthAdjust="spacingAndGlyphs">&#8722;2</text>
<text x="246.25" y="227.90" font-size="10.60" text-anchor="start" textLength="11.80" lengthAdjust="spacingAndGlyphs">10</text>
<text x="260.35" y="224.30" font-size="7.40" text-anchor="start" textLength="10.90" lengthAdjust="spacingAndGlyphs">&#8722;1</text>
<text x="314.85" y="227.90" font-size="10.60" text-anchor="start" textLength="11.80" lengthAdjust="spacingAndGlyphs">10</text>
<text x="328.85" y="224.30" font-size="7.40" text-anchor="start" textLength="4.60" lengthAdjust="spacingAndGlyphs">0</text>
<text x="185.15" y="241.70" font-size="10.60" text-anchor="middle">x</text>
<text transform="translate(7.90,164.70) rotate(-90)" font-size="10.5" textLength="97.4" lengthAdjust="spacingAndGlyphs">Ratio to NNPDF4.0</text>
<text x="142.60" y="12.50" font-size="12.30" text-anchor="start" textLength="9.03" lengthAdjust="spacingAndGlyphs">d</text>
<text x="155.60" y="12.50" font-size="12.30" text-anchor="start" textLength="11.70" lengthAdjust="spacingAndGlyphs">at</text>
<text x="171.30" y="12.50" font-size="12.30" text-anchor="start" textLength="23.90" lengthAdjust="spacingAndGlyphs">100</text>
<text x="199.60" y="12.50" font-size="12.30" text-anchor="start" textLength="26.40" lengthAdjust="spacingAndGlyphs">GeV</text>
<path d="M146.5,0.9H150.2" stroke="#555" stroke-width="1.15"/>
<text x="389.00" y="22.15" font-size="10.60" text-anchor="end" textLength="23.00" lengthAdjust="spacingAndGlyphs">1.15</text>
<text x="389.00" y="55.15" font-size="10.60" text-anchor="end" textLength="23.00" lengthAdjust="spacingAndGlyphs">1.10</text>
<text x="389.00" y="87.25" font-size="10.60" text-anchor="end" textLength="23.00" lengthAdjust="spacingAndGlyphs">1.05</text>
<text x="389.00" y="120.05" font-size="10.60" text-anchor="end" textLength="23.00" lengthAdjust="spacingAndGlyphs">1.00</text>
<text x="389.00" y="152.25" font-size="10.60" text-anchor="end" textLength="23.00" lengthAdjust="spacingAndGlyphs">0.95</text>
<text x="389.00" y="185.15" font-size="10.60" text-anchor="end" textLength="23.00" lengthAdjust="spacingAndGlyphs">0.90</text>
<text x="389.00" y="217.15" font-size="10.60" text-anchor="end" textLength="23.00" lengthAdjust="spacingAndGlyphs">0.85</text>
<text x="403.00" y="227.90" font-size="10.60" text-anchor="start" textLength="11.80" lengthAdjust="spacingAndGlyphs">10</text>
<text x="417.10" y="224.30" font-size="7.40" text-anchor="start" textLength="10.90" lengthAdjust="spacingAndGlyphs">&#8722;4</text>
<text x="468.25" y="227.90" font-size="10.60" text-anchor="start" textLength="11.80" lengthAdjust="spacingAndGlyphs">10</text>
<text x="482.35" y="224.30" font-size="7.40" text-anchor="start" textLength="10.90" lengthAdjust="spacingAndGlyphs">&#8722;3</text>
<text x="533.50" y="227.90" font-size="10.60" text-anchor="start" textLength="11.80" lengthAdjust="spacingAndGlyphs">10</text>
<text x="547.60" y="224.30" font-size="7.40" text-anchor="start" textLength="10.90" lengthAdjust="spacingAndGlyphs">&#8722;2</text>
<text x="598.75" y="227.90" font-size="10.60" text-anchor="start" textLength="11.80" lengthAdjust="spacingAndGlyphs">10</text>
<text x="612.85" y="224.30" font-size="7.40" text-anchor="start" textLength="10.90" lengthAdjust="spacingAndGlyphs">&#8722;1</text>
<text x="667.35" y="227.90" font-size="10.60" text-anchor="start" textLength="11.80" lengthAdjust="spacingAndGlyphs">10</text>
<text x="681.35" y="224.30" font-size="7.40" text-anchor="start" textLength="4.60" lengthAdjust="spacingAndGlyphs">0</text>
<text x="537.15" y="241.70" font-size="10.60" text-anchor="middle">x</text>
<text transform="translate(359.90,164.70) rotate(-90)" font-size="10.5" textLength="97.4" lengthAdjust="spacingAndGlyphs">Ratio to NNPDF4.0</text>
<text x="496.00" y="12.50" font-size="12.30" text-anchor="start" textLength="7.31" lengthAdjust="spacingAndGlyphs">s</text>
<text x="506.90" y="12.50" font-size="12.30" text-anchor="start" textLength="11.70" lengthAdjust="spacingAndGlyphs">at</text>
<text x="522.60" y="12.50" font-size="12.30" text-anchor="start" textLength="23.90" lengthAdjust="spacingAndGlyphs">100</text>
<text x="550.90" y="12.50" font-size="12.30" text-anchor="start" textLength="26.40" lengthAdjust="spacingAndGlyphs">GeV</text>
<path d="M499.3,3.2H502.6" stroke="#222" stroke-width="1.15"/>
<rect x="46.50" y="23.60" width="274.90" height="34.60" rx="2.2" ry="2.2" fill="#ffffff" fill-opacity="0.8" stroke="#cccccc" stroke-opacity="0.8" stroke-width="0.9"/>
<rect x="52.20" y="29.60" width="17.4" height="5.4" fill="#66c2a5" fill-opacity="0.55"/>
<rect x="50.42" y="28.62" width="21.0" height="7.2" fill="none" stroke="#66c2a5" stroke-width="1.25" stroke-dasharray="3.2,1.0"/>
<path d="M62.40,35.70L68.20,29.90" stroke="#5a5a5a" stroke-width="1.1" stroke-dasharray="1.1,0.5"/>
<rect x="52.20" y="45.80" width="17.4" height="5.4" fill="#fc8d62" fill-opacity="0.55"/>
<rect x="50.42" y="44.82" width="21.0" height="7.2" fill="none" stroke="#fc8d62" stroke-width="1.25" stroke-dasharray="3.2,1.0"/>
<path d="M64.90,45.50L69.30,50.10" stroke="#5a5a5a" stroke-width="1.1" stroke-dasharray="1.1,0.5"/>
<g class="lg">
<text x="79.90" y="35.90" font-size="10.50" text-anchor="start" textLength="53.13" lengthAdjust="spacingAndGlyphs">NNPDF4.0</text>
<text x="136.10" y="35.90" font-size="10.50" text-anchor="start" textLength="18.02" lengthAdjust="spacingAndGlyphs">(68</text>
<text x="157.00" y="35.90" font-size="10.50" text-anchor="start" textLength="14.90" lengthAdjust="spacingAndGlyphs">c.l.</text>
<text x="172.80" y="35.90" font-size="10.50" text-anchor="start" textLength="26.10" lengthAdjust="spacingAndGlyphs">+1&#963;)</text>
<text x="79.90" y="51.70" font-size="10.50" text-anchor="start" textLength="53.13" lengthAdjust="spacingAndGlyphs">NNPDF4.0</text>
<text x="136.00" y="51.70" font-size="10.50" text-anchor="start" textLength="17.13" lengthAdjust="spacingAndGlyphs">(w/</text>
<text x="156.30" y="51.70" font-size="10.50" text-anchor="start" textLength="33.26" lengthAdjust="spacingAndGlyphs">ATLAS</text>
<text x="192.60" y="51.70" font-size="10.50" text-anchor="start" textLength="10.60" lengthAdjust="spacingAndGlyphs">W</text>
<text x="216.60" y="51.70" font-size="10.50" text-anchor="start" textLength="5.60" lengthAdjust="spacingAndGlyphs">8</text>
<text x="224.90" y="51.70" font-size="10.50" text-anchor="start" textLength="25.00" lengthAdjust="spacingAndGlyphs">TeV)</text>
<text x="253.10" y="51.70" font-size="10.50" text-anchor="start" textLength="18.02" lengthAdjust="spacingAndGlyphs">(68</text>
<text x="274.30" y="51.70" font-size="10.50" text-anchor="start" textLength="14.90" lengthAdjust="spacingAndGlyphs">c.l.</text>
<text x="290.30" y="51.70" font-size="10.50" text-anchor="start" textLength="26.10" lengthAdjust="spacingAndGlyphs">+1&#963;)</text>
<text x="205.00" y="47.90" font-size="6.60" text-anchor="start" textLength="5.60" lengthAdjust="spacingAndGlyphs">&#177;</text>
</g>
<rect x="401.30" y="173.50" width="274.90" height="34.50" rx="2.2" ry="2.2" fill="#ffffff" fill-opacity="0.8" stroke="#cccccc" stroke-opacity="0.8" stroke-width="0.9"/>
<rect x="407.00" y="179.50" width="17.4" height="5.4" fill="#66c2a5" fill-opacity="0.55"/>
<rect x="405.22" y="178.52" width="21.0" height="7.2" fill="none" stroke="#66c2a5" stroke-width="1.25" stroke-dasharray="3.2,1.0"/>
<path d="M417.20,185.60L423.00,179.80" stroke="#5a5a5a" stroke-width="1.1" stroke-dasharray="1.1,0.5"/>
<rect x="407.00" y="195.70" width="17.4" height="5.4" fill="#fc8d62" fill-opacity="0.55"/>
<rect x="405.22" y="194.72" width="21.0" height="7.2" fill="none" stroke="#fc8d62" stroke-width="1.25" stroke-dasharray="3.2,1.0"/>
<path d="M419.70,195.40L424.10,200.00" stroke="#5a5a5a" stroke-width="1.1" stroke-dasharray="1.1,0.5"/>
<g class="lg">
<text x="434.70" y="185.80" font-size="10.50" text-anchor="start" textLength="53.13" lengthAdjust="spacingAndGlyphs">NNPDF4.0</text>
<text x="490.90" y="185.80" font-size="10.50" text-anchor="start" textLength="18.02" lengthAdjust="spacingAndGlyphs">(68</text>
<text x="511.80" y="185.80" font-size="10.50" text-anchor="start" textLength="14.90" lengthAdjust="spacingAndGlyphs">c.l.</text>
<text x="527.60" y="185.80" font-size="10.50" text-anchor="start" textLength="26.10" lengthAdjust="spacingAndGlyphs">+1&#963;)</text>
<text x="434.70" y="201.60" font-size="10.50" text-anchor="start" textLength="53.13" lengthAdjust="spacingAndGlyphs">NNPDF4.0</text>
<text x="490.80" y="201.60" font-size="10.50" text-anchor="start" textLength="17.13" lengthAdjust="spacingAndGlyphs">(w/</text>
<text x="511.10" y="201.60" font-size="10.50" text-anchor="start" textLength="33.26" lengthAdjust="spacingAndGlyphs">ATLAS</text>
<text x="547.40" y="201.60" font-size="10.50" text-anchor="start" textLength="10.60" lengthAdjust="spacingAndGlyphs">W</text>
<text x="571.40" y="201.60" font-size="10.50" text-anchor="start" textLength="5.60" lengthAdjust="spacingAndGlyphs">8</text>
<text x="579.70" y="201.60" font-size="10.50" text-anchor="start" textLength="25.00" lengthAdjust="spacingAndGlyphs">TeV)</text>
<text x="607.90" y="201.60" font-size="10.50" text-anchor="start" textLength="18.02" lengthAdjust="spacingAndGlyphs">(68</text>
<text x="629.10" y="201.60" font-size="10.50" text-anchor="start" textLength="14.90" lengthAdjust="spacingAndGlyphs">c.l.</text>
<text x="645.10" y="201.60" font-size="10.50" text-anchor="start" textLength="26.10" lengthAdjust="spacingAndGlyphs">+1&#963;)</text>
<text x="559.80" y="197.80" font-size="6.60" text-anchor="start" textLength="5.60" lengthAdjust="spacingAndGlyphs">&#177;</text>
</g>
</svg>
</body></html>
